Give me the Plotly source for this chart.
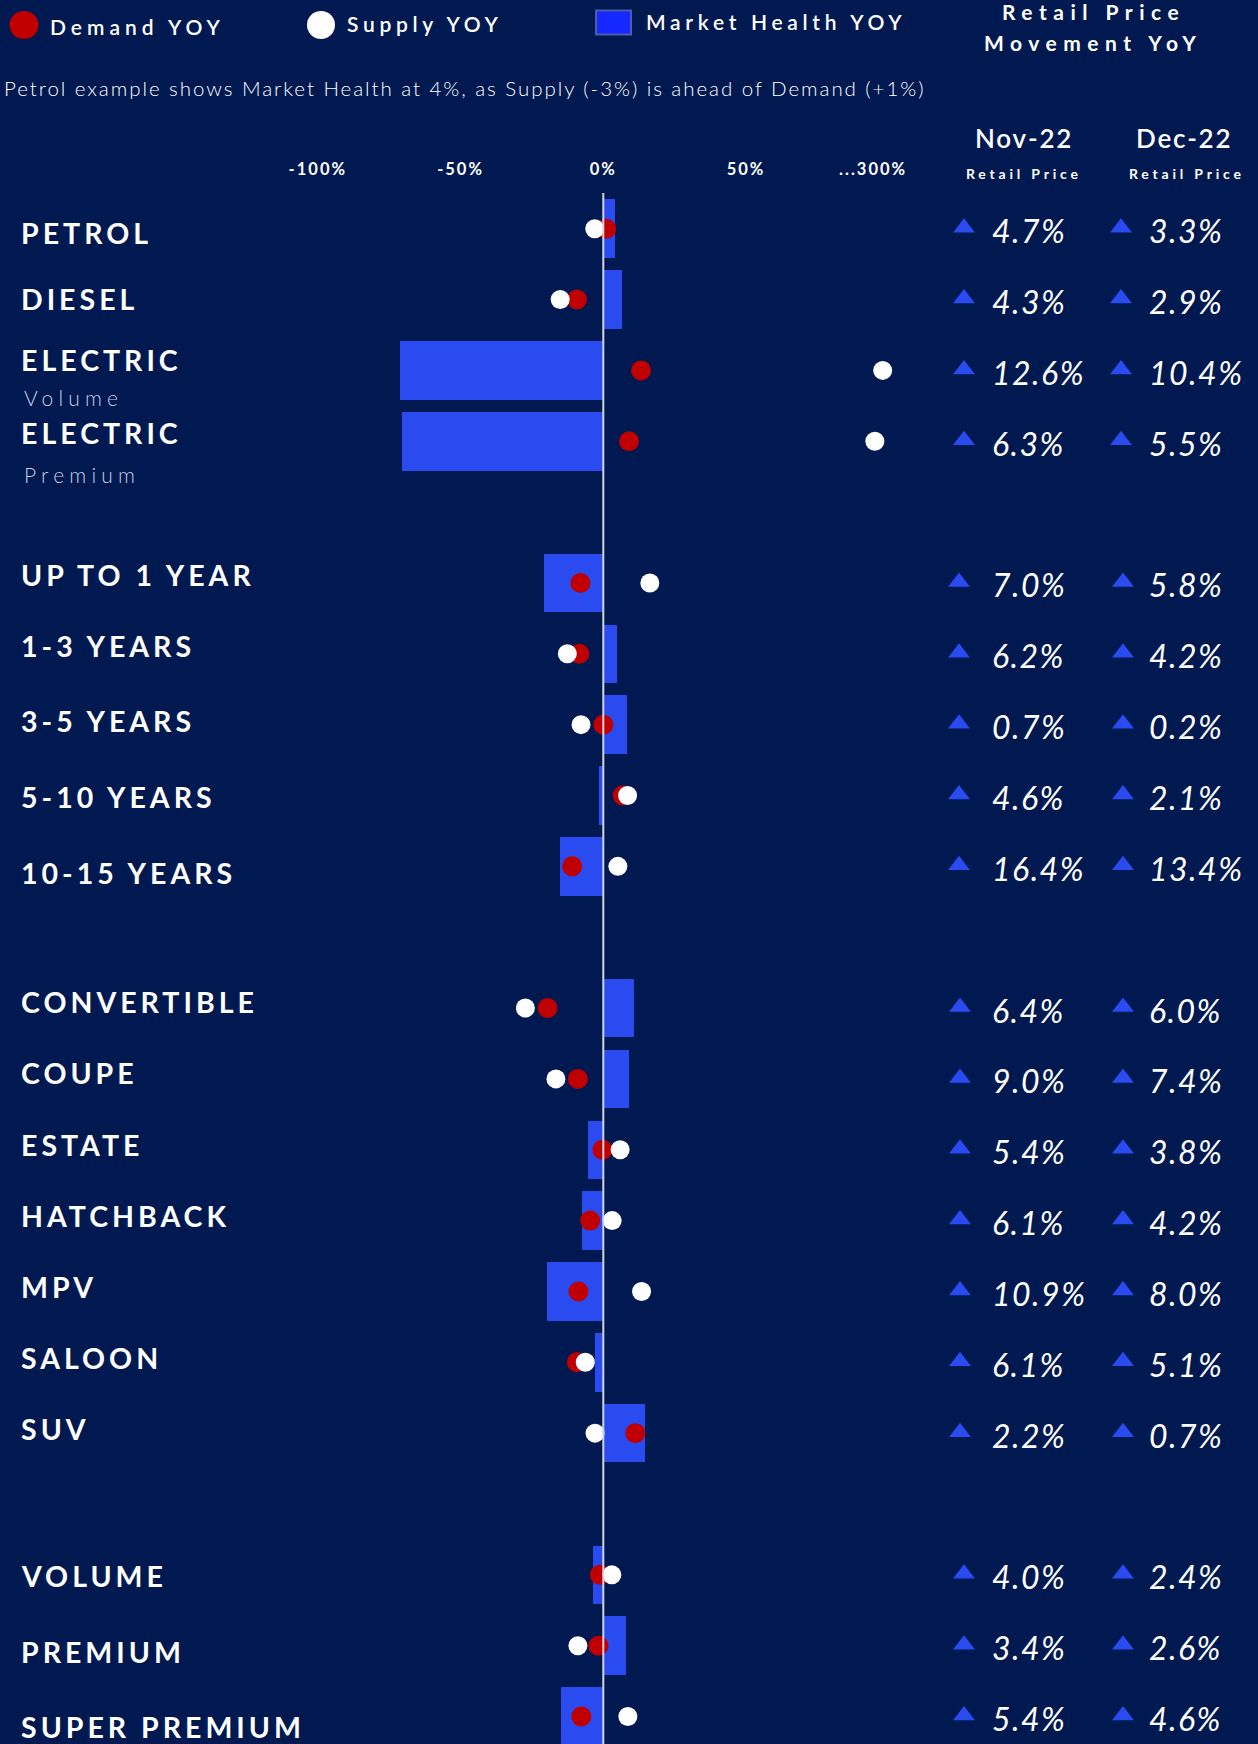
import plotly.graph_objects as go

# ---- data -------------------------------------------------------------
segments = [
    "PETROL", "DIESEL", "ELECTRIC", "ELECTRIC",
    "UP TO 1 YEAR", "1-3 YEARS", "3-5 YEARS", "5-10 YEARS", "10-15 YEARS",
    "CONVERTIBLE", "COUPE", "ESTATE", "HATCHBACK", "MPV", "SALOON", "SUV",
    "VOLUME", "PREMIUM", "SUPER PREMIUM",
]
segment_notes = ["", "", "Volume", "Premium"] + [""] * 15
group_sizes = [4, 5, 7, 3]

demand_yoy = [1, -9.2, 13.2, 9.0,
              -8.0, -8.4, 0.0, 6.8, -10.9,
              -19.5, -8.9, -0.3, -4.6, -8.7, -9.3, 11.2,
              -1.2, -1.7, -7.7]
supply_yoy = [-3, -15.1, 296, 271,
              16.3, -12.6, -7.8, 8.5, 5.1,
              -27.3, -16.6, 5.9, 3.1, 13.4, -6.3, -2.9,
              3.0, -8.9, 8.6]
market_health_yoy = [4, 6.6, -71.3, -70.6,
                     -20.8, 4.8, 8.3, -1.5, -15.0,
                     10.6, 9.0, -5.5, -7.5, -19.6, -2.8, 14.5,
                     -3.5, 7.8, -14.8]
retail_nov22 = [4.7, 4.3, 12.6, 6.3,
                7.0, 6.2, 0.7, 4.6, 16.4,
                6.4, 9.0, 5.4, 6.1, 10.9, 6.1, 2.2,
                4.0, 3.4, 5.4]
retail_dec22 = [3.3, 2.9, 10.4, 5.5,
                5.8, 4.2, 0.2, 2.1, 13.4,
                6.0, 7.4, 3.8, 4.2, 8.0, 5.1, 0.7,
                2.4, 2.6, 4.6]

tick_values = [-100, -50, 0, 50]
tick_labels = ["-100%", "-50%", "0%", "50%"]
break_label = "...300%"

# ---- styling ----------------------------------------------------------
W, H = 1258, 1744
BG = "#001951"
BAR = "#2a4bf0"
RED = "#c00000"
WHITE = "#ffffff"
NOTE = "#c6cde4"
FONT = "Lato"

# horizontal scale: pixels per percentage point and pixel of 0%
ZERO_PX, PX_PER_PCT = 603.3, 2.855
PLOT_L, PLOT_R = 260, 958
PLOT_TOP = 193
ROW_PITCH = 70.85
FIRST_ROW_PX = 228.7

# values above 100% are drawn past an axis break labelled "...300%"
BREAK_FROM, BREAK_POS, BREAK_SCALE = 100, 98.3, 0.11
BREAK_TICK_POS = 94.5


def axis_x(v):
    return v if v <= BREAK_FROM else BREAK_POS + (v - 300) * BREAK_SCALE


def spaced(text, px):
    return f'<span style="letter-spacing:{px}px">{text}</span>'


# row index for each segment, with an empty row between groups
rows = []
group_of_row = []
r = 0
for gi, g in enumerate(group_sizes):
    for _ in range(g):
        rows.append(r)
        group_of_row.append(gi)
        r += 1
    r += 1

y_top = (PLOT_TOP - FIRST_ROW_PX) / ROW_PITCH
y_bottom = y_top + (H - PLOT_TOP) / ROW_PITCH
x_left = (PLOT_L - ZERO_PX) / PX_PER_PCT
x_right = (PLOT_R - ZERO_PX) / PX_PER_PCT

fig = go.Figure()

fig.add_trace(go.Bar(
    x=[axis_x(v) for v in market_health_yoy], y=rows, orientation="h",
    width=58.5 / ROW_PITCH, marker=dict(color=BAR, line=dict(width=0)),
    hoverinfo="skip", name="Market Health YOY",
))
fig.add_trace(go.Scatter(
    x=[axis_x(v) for v in demand_yoy], y=rows, mode="markers",
    marker=dict(size=20, color=RED, line=dict(width=0)),
    name="Demand YOY", hoverinfo="skip",
))
fig.add_trace(go.Scatter(
    x=[axis_x(v) for v in supply_yoy], y=rows, mode="markers",
    marker=dict(size=19, color=WHITE, line=dict(width=0)),
    name="Supply YOY", hoverinfo="skip",
))

# retail price movement markers (pixel-based x2 axis spanning the page)
NOV_TRI_PX = [964, 959, 960, 964]   # per group
DEC_TRI_PX = [1121, 1123, 1123, 1123]
NOV_TXT_PX, DEC_TXT_PX = 990, 1147
for tri_px, vals in ((NOV_TRI_PX, retail_nov22), (DEC_TRI_PX, retail_dec22)):
    fig.add_trace(go.Scatter(
        x=[tri_px[g] for g in group_of_row], y=[v - 1 / ROW_PITCH for v in rows],
        mode="markers", xaxis="x2", yaxis="y",
        marker=dict(size=19, color=BAR, line=dict(width=0),
                    symbol=["triangle-up" if v >= 0 else "triangle-down" for v in vals]),
        hoverinfo="skip", showlegend=False,
    ))

annotations = []


def px_y(px):
    return 1 - px / H


def add_text(text, x_px, y_px, size, weight=400, color=WHITE, anchor="left",
             style="normal", yref="paper"):
    annotations.append(dict(
        text=text, x=x_px / W, xref="paper", y=y_px if yref != "paper" else px_y(y_px),
        yref=yref, xanchor=anchor, yanchor="middle", showarrow=False,
        font=dict(family=FONT, size=size, color=color, weight=weight, style=style),
    ))


# segment labels (nudges in pixels relative to the row centre)
label_nudge = [4, -1, -10, -8, -8, -8, -4, 1, 7, -6, -6, -5, -5, -4, -4, -4, 1, 6, 10]
note_nudge = [0, 0, 27, 33] + [0] * 15
for i, name in enumerate(segments):
    yr = rows[i] + label_nudge[i] / ROW_PITCH
    add_text(spaced(name, 4), 19, yr, 28.5, weight=700, yref="y")
    if segment_notes[i]:
        add_text(spaced(segment_notes[i], 5.2), 22, rows[i] + note_nudge[i] / ROW_PITCH,
                 21, weight=300, color=NOTE, yref="y")
    for txt_px, vals in ((NOV_TXT_PX, retail_nov22), (DEC_TXT_PX, retail_dec22)):
        add_text(spaced(f"{abs(vals[i]):.1f}%", 1.5), txt_px, rows[i] + 2 / ROW_PITCH,
                 32, style="italic", yref="y")

# header legend
add_text(spaced("Demand YOY", 5), 48, 26.5, 21, weight=600)
add_text(spaced("Supply YOY", 4.7), 345, 23.5, 21, weight=600)
add_text(spaced("Market Health YOY", 4.7), 644, 21.5, 21, weight=600)
add_text(spaced("Retail Price", 6.5), 1093, 11.5, 21, weight=700, anchor="center")
add_text(spaced("Movement YoY", 6.5), 1093, 42.5, 21, weight=700, anchor="center")
add_text(spaced("Petrol example shows Market Health at 4%, as Supply (-3%) is ahead of Demand (+1%)", 1.95),
         2, 88, 20.5, weight=300)
add_text(spaced("Nov-22", 1.8), 1024, 138, 26, weight=600, anchor="center")
add_text(spaced("Dec-22", 1.8), 1184, 138, 26, weight=600, anchor="center")
add_text(spaced("Retail Price", 3.8), 1024, 173, 14, weight=700, anchor="center")
add_text(spaced("Retail Price", 3.8), 1187, 173, 14, weight=700, anchor="center")

shapes = [
    # zero line over bars and dots
    dict(type="line", xref="x", yref="paper", x0=0, x1=0, y0=0, y1=px_y(PLOT_TOP),
         line=dict(color="#d3d6e0", width=2), layer="above"),
    # legend swatches
    dict(type="circle", xref="paper", yref="paper", x0=9.5 / W, x1=38.5 / W,
         y0=px_y(39), y1=px_y(11), fillcolor=RED, line=dict(width=0)),
    dict(type="circle", xref="paper", yref="paper", x0=307 / W, x1=335 / W,
         y0=px_y(39), y1=px_y(11), fillcolor=WHITE, line=dict(width=0)),
    dict(type="rect", xref="paper", yref="paper", x0=596 / W, x1=631 / W,
         y0=px_y(34.5), y1=px_y(10.5), fillcolor="#1428ff",
         line=dict(color="#4c5cae", width=2)),
]

fig.update_layout(
    width=W, height=H, autosize=False,
    margin=dict(l=0, r=0, t=0, b=0, pad=0),
    paper_bgcolor=BG, plot_bgcolor="rgba(0,0,0,0)",
    showlegend=False, bargap=0,
    xaxis=dict(
        domain=[PLOT_L / W, PLOT_R / W], range=[x_left, x_right], side="top",
        anchor="y", showgrid=False, zeroline=False, showline=False, ticks="",
        tickvals=tick_values + [BREAK_TICK_POS],
        ticktext=[spaced(t, 2) for t in tick_labels + [break_label]],
        tickfont=dict(family=FONT, size=16.5, color=WHITE, weight=700),
        ticklabelstandoff=14, fixedrange=True,
    ),
    xaxis2=dict(domain=[0, 1], range=[0, W], anchor="y", visible=False, fixedrange=True),
    yaxis=dict(
        domain=[0, px_y(PLOT_TOP)], range=[y_bottom, y_top], visible=False,
        anchor="x", fixedrange=True,
    ),
    annotations=annotations,
    shapes=shapes,
)

fig.write_html("out.html")
